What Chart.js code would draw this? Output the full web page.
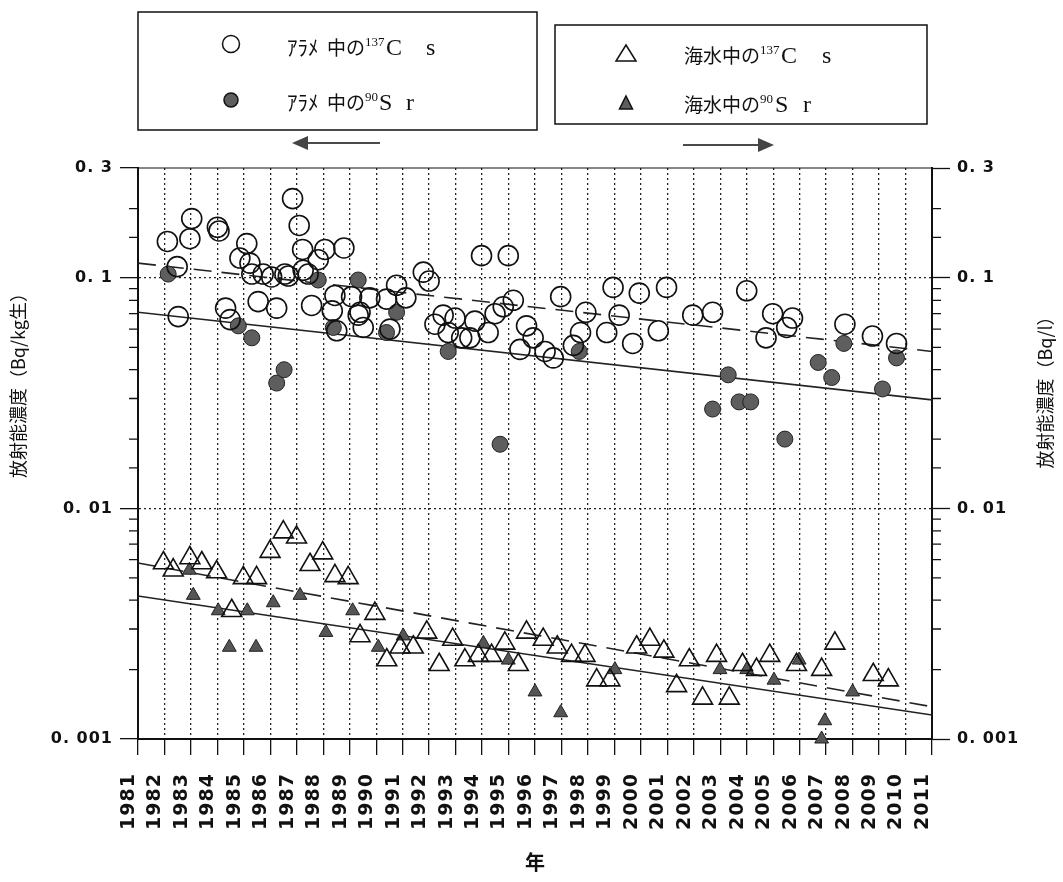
<!DOCTYPE html>
<html lang="ja">
<head>
<meta charset="utf-8">
<title>アラメ・海水中の放射能濃度</title>
<script src="https://cdn.jsdelivr.net/npm/chart.js@4.4.1/dist/chart.umd.min.js"></script>
<style>
  html, body { margin: 0; padding: 0; background: #fff; }
  #wrap { position: relative; width: 1063px; height: 882px; }
</style>
</head>
<body>
<div id="wrap"><canvas id="chart"></canvas></div>
<script>
// アラメ中の137Cs (left axis, Bq/kg生)
const arameCsYears = [1982.11, 1982.48, 1982.52, 1982.96, 1983.03, 1984.0, 1984.06, 1984.31, 1984.48, 1984.85,
  1985.11, 1985.23, 1985.30, 1985.54, 1985.73, 1986.05, 1986.24, 1986.55, 1986.68, 1986.84,
  1987.09, 1987.22, 1987.24, 1987.43, 1987.56, 1987.81, 1988.06, 1988.34, 1988.44, 1988.51,
  1988.78, 1989.07, 1989.32, 1989.39, 1989.51, 1989.76, 1990.39, 1990.52, 1990.77, 1991.12,
  1991.78, 1992.00, 1992.22, 1992.53, 1992.72, 1992.98, 1993.23, 1993.54, 1993.73, 1993.98,
  1994.23, 1994.49, 1994.80, 1994.99, 1995.18, 1995.43, 1995.68, 1995.93, 1996.38, 1996.69,
  1996.97, 1997.45, 1997.72, 1997.92, 1998.71, 1998.95, 1999.18, 1999.69, 1999.94, 2000.66,
  2000.97, 2001.96, 2002.71, 2004.00, 2004.73, 2004.98, 2005.51, 2005.73, 2007.71, 2008.75,
  2009.66];
const arameCsValues = [0.144, 0.112, 0.068, 0.148, 0.181, 0.166, 0.160, 0.074, 0.066, 0.122,
  0.141, 0.116, 0.104, 0.079, 0.104, 0.101, 0.074, 0.104, 0.102, 0.221,
  0.169, 0.133, 0.108, 0.104, 0.076, 0.120, 0.133, 0.072, 0.084, 0.059,
  0.135, 0.083, 0.069, 0.071, 0.061, 0.082, 0.081, 0.060, 0.093, 0.082,
  0.106, 0.097, 0.063, 0.069, 0.058, 0.067, 0.055, 0.055, 0.065, 0.125,
  0.058, 0.070, 0.075, 0.125, 0.080, 0.049, 0.062, 0.055, 0.048, 0.045,
  0.083, 0.051, 0.058, 0.071, 0.058, 0.091, 0.069, 0.052, 0.086, 0.059,
  0.091, 0.069, 0.071, 0.088, 0.055, 0.070, 0.061, 0.067, 0.063, 0.056,
  0.052];

// アラメ中の90Sr (left axis)
const arameSrYears = [1982.14, 1984.79, 1985.30, 1986.24, 1986.52, 1987.81, 1988.38, 1989.32, 1990.39, 1990.77,
  1992.72, 1994.68, 1997.67, 2002.71, 2003.30, 2003.71, 2004.15, 2005.44, 2006.70, 2007.21,
  2007.67, 2009.13, 2009.66];
const arameSrValues = [0.104, 0.062, 0.055, 0.035, 0.040, 0.098, 0.061, 0.098, 0.058, 0.071,
  0.048, 0.019, 0.048, 0.027, 0.038, 0.029, 0.029, 0.020, 0.043, 0.037,
  0.052, 0.033, 0.045];

// 海水中の137Cs (right axis, Bq/l)
const seaCsYears = [1981.96, 1982.33, 1982.96, 1983.41, 1983.97, 1984.54, 1984.98, 1985.48, 1985.99, 1986.49,
  1986.99, 1987.50, 1987.98, 1988.44, 1988.94, 1989.39, 1989.95, 1990.40, 1990.90, 1991.40,
  1991.91, 1992.38, 1992.89, 1993.35, 1993.86, 1994.36, 1994.86, 1995.37, 1995.68, 1996.31,
  1996.84, 1997.38, 1997.89, 1998.33, 1998.83, 1999.84, 2000.34, 2000.87, 2001.35, 2001.83,
  2002.33, 2002.86, 2003.34, 2003.84, 2004.37, 2004.87, 2005.88, 2006.83, 2007.33, 2008.78,
  2009.35];
const seaCsValues = [0.0058, 0.0054, 0.0061, 0.0058, 0.0053, 0.0036, 0.0050, 0.0050, 0.0065, 0.0079,
  0.0075, 0.0057, 0.0064, 0.0051, 0.0050, 0.0028, 0.0035, 0.0022, 0.0025, 0.0025,
  0.0029, 0.0021, 0.0027, 0.0022, 0.0023, 0.0023, 0.0026, 0.0021, 0.0029, 0.0027,
  0.0025, 0.0023, 0.0023, 0.0018, 0.0018, 0.0025, 0.0027, 0.0024, 0.0017, 0.0022,
  0.0015, 0.0023, 0.0015, 0.0021, 0.0020, 0.0023, 0.0021, 0.0020, 0.0026, 0.0019,
  0.0018];

// 海水中の90Sr (right axis)
const seaSrYears = [1982.94, 1983.09, 1984.03, 1984.45, 1985.13, 1985.46, 1986.11, 1987.12, 1988.10, 1989.11,
  1990.08, 1991.02, 1994.05, 1994.99, 1996.00, 1996.97, 1999.02, 2002.99, 2004.00, 2005.03,
  2005.98, 2006.83, 2006.95, 2008.00];
const seaSrValues = [0.0054, 0.0042, 0.0036, 0.0025, 0.0036, 0.0025, 0.0039, 0.0042, 0.0029, 0.0036,
  0.0025, 0.0028, 0.0026, 0.0022, 0.0016, 0.0013, 0.0020, 0.0020, 0.0020, 0.0018,
  0.0022, 0.0010, 0.0012, 0.0016];

// trend lines (end points)
const trendYears = [1981, 2011];
const arameCsTrend = [0.116, 0.048];
const arameSrTrend = [0.071, 0.0296];
const seaCsTrend = [0.0058, 0.00138];
const seaSrTrend = [0.00417, 0.00127];

// axis ticks
const yTickValues = [0.001, 0.01, 0.1, 0.3];
const yTickLabels = ['0. 001', '0. 01', '0. 1', '0. 3'];
const yGridValues = [0.01, 0.1];

function toPoints(xs, ys) {
  return xs.map((x, i) => ({ x: x, y: ys[i] }));
}
function isIn(list, v) {
  return list.some(t => Math.abs(t - v) / t < 1e-6);
}

const decorations = {
  id: 'decorations',
  beforeDraw(chart) {
    chart.ctx.letterSpacing = '1px';
  },
  afterDraw(chart) {
    const ctx = chart.ctx;
    const area = chart.chartArea;
    ctx.save();
    ctx.letterSpacing = '0px';
    ctx.strokeStyle = '#111';
    ctx.fillStyle = '#111';

    // top border of plot area
    ctx.lineWidth = 1;
    ctx.beginPath();
    ctx.moveTo(area.left, area.top);
    ctx.lineTo(area.right, area.top);
    ctx.stroke();

    // short minor ticks on both log axes
    ctx.lineWidth = 1.3;
    ctx.beginPath();
    ['y', 'y2'].forEach(id => {
      const s = chart.scales[id];
      s.ticks.forEach(t => {
        if (isIn(yTickValues, t.value)) return;
        const py = s.getPixelForValue(t.value);
        const x0 = id === 'y' ? area.left - 9 : area.right;
        ctx.moveTo(x0, py);
        ctx.lineTo(x0 + 9, py);
      });
    });
    ctx.stroke();

    // axis titles
    ctx.textAlign = 'center';
    ctx.textBaseline = 'middle';
    ctx.font = '18px "Noto Sans CJK JP"';
    ctx.save();
    ctx.translate(18, 381);
    ctx.rotate(-Math.PI / 2);
    ctx.fillText('放射能濃度（Bq/kg生）', 0, 0);
    ctx.restore();
    ctx.save();
    ctx.translate(1045, 388);
    ctx.rotate(-Math.PI / 2);
    ctx.fillText('放射能濃度（Bq/l）', 0, 0);
    ctx.restore();
    ctx.font = 'bold 20px "Noto Sans CJK JP"';
    ctx.fillText('年', 535, 862);

    // legend boxes
    ctx.lineWidth = 1.5;
    ctx.strokeRect(138, 12, 399, 118);
    ctx.strokeRect(555, 25, 372, 99);

    // legend markers
    ctx.lineWidth = 1.5;
    ctx.beginPath();
    ctx.arc(231, 44, 8.5, 0, Math.PI * 2);
    ctx.stroke();
    ctx.fillStyle = '#5e5e5e';
    ctx.beginPath();
    ctx.arc(231, 100, 7, 0, Math.PI * 2);
    ctx.fill();
    ctx.stroke();
    ctx.beginPath();
    ctx.moveTo(626, 45); ctx.lineTo(636, 61); ctx.lineTo(616, 61); ctx.closePath();
    ctx.stroke();
    ctx.beginPath();
    ctx.moveTo(626, 96); ctx.lineTo(632.5, 109); ctx.lineTo(619.5, 109); ctx.closePath();
    ctx.fill();
    ctx.stroke();

    // legend text
    ctx.fillStyle = '#111';
    ctx.textAlign = 'left';
    ctx.textBaseline = 'alphabetic';
    const jp = '19px "Noto Sans CJK JP"';
    const kana = '21px "Noto Sans CJK JP"';
    const sup = '13px "Liberation Serif"';
    const lat = '24px "Liberation Serif"';
    const pieces = [
      ['ｱﾗﾒ', 287, 55, kana], ['中の', 327, 55, jp], ['137', 365, 46, sup], ['C', 386, 55, lat], ['s', 426, 55, lat],
      ['ｱﾗﾒ', 287, 110, kana], ['中の', 327, 110, jp], ['90', 365, 101, sup], ['S', 379, 110, lat], ['r', 406, 110, lat],
      ['海水中の', 684, 63, jp], ['137', 760, 54, sup], ['C', 781, 63, lat], ['s', 822, 63, lat],
      ['海水中の', 684, 112, jp], ['90', 760, 103, sup], ['S', 775, 112, lat], ['r', 803, 112, lat]
    ];
    pieces.forEach(p => {
      ctx.font = p[3];
      ctx.fillText(p[0], p[1], p[2]);
    });

    // arrows: left box -> left axis, right box -> right axis
    ctx.lineWidth = 1.5;
    ctx.beginPath();
    ctx.moveTo(300, 143); ctx.lineTo(380, 143);
    ctx.moveTo(683, 145); ctx.lineTo(762, 145);
    ctx.stroke();
    ctx.fillStyle = '#444';
    ctx.beginPath();
    ctx.moveTo(292, 143); ctx.lineTo(308, 136); ctx.lineTo(308, 150); ctx.closePath();
    ctx.fill();
    ctx.beginPath();
    ctx.moveTo(774, 145); ctx.lineTo(758, 138); ctx.lineTo(758, 152); ctx.closePath();
    ctx.fill();

    ctx.restore();
  }
};

const yAxisCommon = {
  type: 'logarithmic',
  min: 0.001,
  max: 0.3,
  border: { display: true, color: '#111', width: 2, dash: [2, 3] },
  ticks: {
    autoSkip: false,
    color: '#111',
    padding: 7,
    font: { family: '"DejaVu Sans"', size: 16, weight: 'bold' },
    callback: (v) => {
      const i = yTickValues.findIndex(t => Math.abs(t - v) / t < 1e-6);
      return i >= 0 ? yTickLabels[i] : '';
    }
  }
};

new Chart(document.getElementById('chart'), {
  type: 'scatter',
  data: {
    datasets: [
      {
        label: 'アラメ中の137Cs',
        data: toPoints(arameCsYears, arameCsValues),
        yAxisID: 'y',
        pointStyle: 'circle',
        pointRadius: 10,
        backgroundColor: 'rgba(0,0,0,0)',
        borderColor: '#111',
        borderWidth: 1.6,
        clip: false
      },
      {
        label: 'アラメ中の90Sr',
        data: toPoints(arameSrYears, arameSrValues),
        yAxisID: 'y',
        pointStyle: 'circle',
        pointRadius: 8,
        backgroundColor: '#5e5e5e',
        borderColor: '#222',
        borderWidth: 1,
        clip: false
      },
      {
        label: '海水中の137Cs',
        data: toPoints(seaCsYears, seaCsValues),
        yAxisID: 'y2',
        pointStyle: 'triangle',
        pointRadius: 11.5,
        backgroundColor: 'rgba(0,0,0,0)',
        borderColor: '#111',
        borderWidth: 1.6,
        clip: false
      },
      {
        label: '海水中の90Sr',
        data: toPoints(seaSrYears, seaSrValues),
        yAxisID: 'y2',
        pointStyle: 'triangle',
        pointRadius: 8,
        backgroundColor: '#555',
        borderColor: '#222',
        borderWidth: 1,
        clip: false
      },
      {
        type: 'line',
        label: 'アラメ137Cs 傾向',
        data: toPoints(trendYears, arameCsTrend),
        yAxisID: 'y',
        borderColor: '#222',
        borderWidth: 1.6,
        borderDash: [18, 10],
        pointRadius: 0
      },
      {
        type: 'line',
        label: 'アラメ90Sr 傾向',
        data: toPoints(trendYears, arameSrTrend),
        yAxisID: 'y',
        borderColor: '#222',
        borderWidth: 1.6,
        pointRadius: 0
      },
      {
        type: 'line',
        label: '海水137Cs 傾向',
        data: toPoints(trendYears, seaCsTrend),
        yAxisID: 'y2',
        borderColor: '#222',
        borderWidth: 1.6,
        borderDash: [18, 10],
        pointRadius: 0
      },
      {
        type: 'line',
        label: '海水90Sr 傾向',
        data: toPoints(trendYears, seaSrTrend),
        yAxisID: 'y2',
        borderColor: '#222',
        borderWidth: 1.6,
        pointRadius: 0
      }
    ]
  },
  options: {
    responsive: true,
    maintainAspectRatio: false,
    animation: false,
    events: [],
    layout: { padding: { top: 168, left: 0, right: 0, bottom: 0 } },
    plugins: {
      legend: { display: false },
      tooltip: { enabled: false }
    },
    scales: {
      x: {
        type: 'linear',
        position: 'bottom',
        min: 1981,
        max: 2011,
        afterFit: (s) => { s.height = 143; },
        border: { display: true, color: '#111', width: 2, dash: [2, 3] },
        grid: {
          color: '#222',
          lineWidth: 1.3,
          tickColor: '#111',
          tickWidth: 1.3,
          tickLength: 16,
          tickBorderDash: []
        },
        ticks: {
          stepSize: 1,
          autoSkip: false,
          minRotation: 90,
          maxRotation: 90,
          padding: 18,
          labelOffset: -9,
          color: '#111',
          font: { family: '"DejaVu Sans"', size: 19, weight: 'bold' },
          callback: (v) => String(v)
        }
      },
      y: Object.assign({}, yAxisCommon, {
        position: 'left',
        afterFit: (s) => { s.width = 138; },
        grid: {
          color: (c) => (c.tick && isIn(yGridValues, c.tick.value)) ? '#222' : 'rgba(0,0,0,0)',
          lineWidth: 1.3,
          tickColor: (c) => (c.tick && isIn(yTickValues, c.tick.value)) ? '#111' : 'rgba(0,0,0,0)',
          tickWidth: 1.3,
          tickLength: 18,
          tickBorderDash: []
        }
      }),
      y2: Object.assign({}, yAxisCommon, {
        position: 'right',
        afterFit: (s) => { s.width = 131; },
        grid: {
          drawOnChartArea: false,
          tickColor: (c) => (c.tick && isIn(yTickValues, c.tick.value)) ? '#111' : 'rgba(0,0,0,0)',
          tickWidth: 1.3,
          tickLength: 18,
          tickBorderDash: []
        }
      })
    }
  },
  plugins: [decorations]
});
</script>
</body>
</html>
